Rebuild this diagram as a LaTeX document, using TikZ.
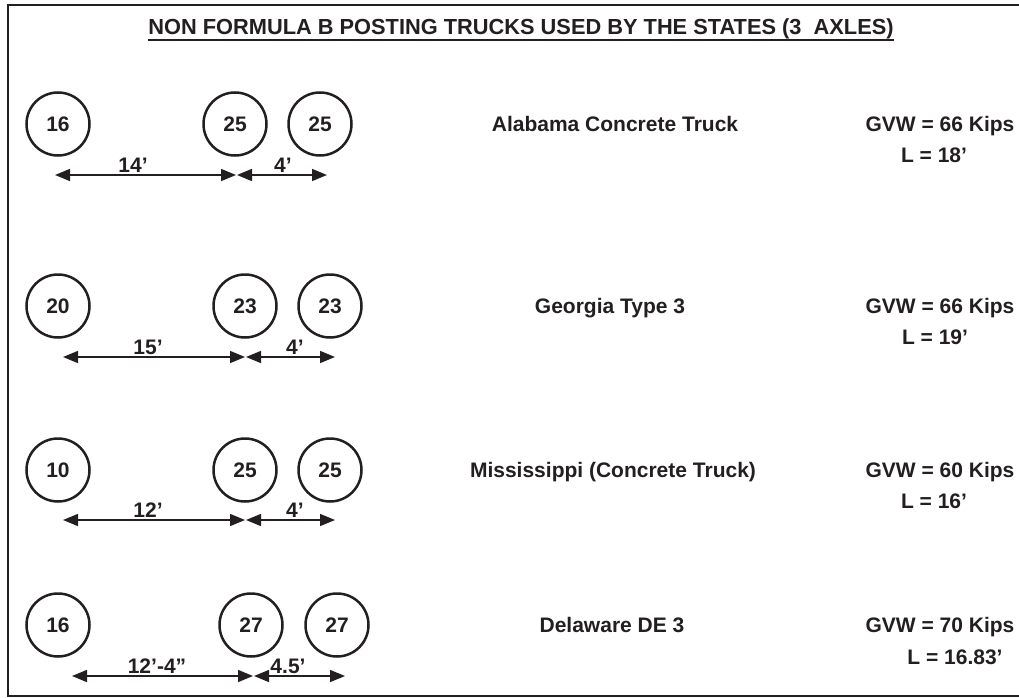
\documentclass[tikz,border=0pt]{standalone}
\usepackage{fontspec}
\setmainfont{Liberation Sans}
\usetikzlibrary{arrows.meta}
\definecolor{ink}{RGB}{35,31,32}
\tikzset{
  axle/.style={circle, draw=ink, line width=2.5pt, minimum size=63pt, inner sep=0pt,
               font=\fontsize{21}{24}\selectfont\bfseries, text=ink},
  lbl/.style={anchor=base, inner sep=0pt, font=\fontsize{21}{24}\selectfont\bfseries, text=ink},
  dim/.style={draw=ink, line width=1.5pt, {Triangle[length=15pt,width=12pt]}-{Triangle[length=15pt,width=12pt]}},
  frame/.style={draw=ink, line width=2pt}
}
\begin{document}
\begin{tikzpicture}[x=1pt, y=-1pt]
\useasboundingbox (0,0) rectangle (1019,698);

% outer frame (open on the right)
\coordinate (ftr) at (1025,5);
\coordinate (ftl) at (8,5);
\coordinate (fbl) at (8,696);
\coordinate (fbr) at (1025,696);
\draw[frame] (ftr) -- (ftl) -- (fbl) -- (fbr);

% heading
\node[lbl, font=\fontsize{21.8}{24}\selectfont\bfseries] (title) at (521,35)
  {NON FORMULA B POSTING TRUCKS USED BY THE STATES (3\ \ AXLES)};
\draw[ink, line width=1.5pt] ([yshift=-5pt]title.base west) -- ([yshift=-5pt]title.base east);

% ---- Alabama ----
\node[axle] (a1) at (58,124) {16};
\node[axle] (a2) at (235,124) {25};
\node[axle] (a3) at (320,124) {25};
\coordinate (a1d) at (55,175);
\coordinate (a2d) at (236,175);
\coordinate (a2e) at (237,175);
\coordinate (a3d) at (327,175);
\draw[dim] (a1d) -- (a2d);
\draw[dim] (a2e) -- (a3d);
\node[lbl] (a12) at (133,172.5) {14’};
\node[lbl] (a23) at (283,172.5) {4’};
\node[lbl] (aname) at (615,131.5) {Alabama Concrete Truck};
\node[lbl] (agvw) at (940,131.5) {GVW = 66 Kips};
\node[lbl] (alen) at (934,162.5) {L = 18’};

% ---- Georgia ----
\node[axle] (g1) at (58,306) {20};
\node[axle] (g2) at (245,306) {23};
\node[axle] (g3) at (330,306) {23};
\coordinate (g1d) at (63,357);
\coordinate (g2d) at (245,357);
\coordinate (g2e) at (246,357);
\coordinate (g3d) at (335,357);
\draw[dim] (g1d) -- (g2d);
\draw[dim] (g2e) -- (g3d);
\node[lbl] (g12) at (148,354.5) {15’};
\node[lbl] (g23) at (295,354.5) {4’};
\node[lbl] (gname) at (610,313.5) {Georgia Type 3};
\node[lbl] (ggvw) at (940,313.5) {GVW = 66 Kips};
\node[lbl] (glen) at (935,344.5) {L = 19’};

% ---- Mississippi ----
\node[axle] (m1) at (58,470) {10};
\node[axle] (m2) at (245,470) {25};
\node[axle] (m3) at (330,470) {25};
\coordinate (m1d) at (63,520);
\coordinate (m2d) at (245,520);
\coordinate (m2e) at (246,520);
\coordinate (m3d) at (335,520);
\draw[dim] (m1d) -- (m2d);
\draw[dim] (m2e) -- (m3d);
\node[lbl] (m12) at (148,517.5) {12’};
\node[lbl] (m23) at (295,517.5) {4’};
\node[lbl] (mname) at (613,477.5) {Mississippi (Concrete Truck)};
\node[lbl] (mgvw) at (940,477.5) {GVW = 60 Kips};
\node[lbl] (mlen) at (934,508.5) {L = 16’};

% ---- Delaware ----
\node[axle] (d1) at (58,625) {16};
\node[axle] (d2) at (251,625) {27};
\node[axle] (d3) at (337,625) {27};
\coordinate (d1d) at (72,676);
\coordinate (d2d) at (253,676);
\coordinate (d2e) at (254,676);
\coordinate (d3d) at (345,676);
\draw[dim] (d1d) -- (d2d);
\draw[dim] (d2e) -- (d3d);
\node[lbl] (d12) at (157,673.5) {12’-4”};
\node[lbl] (d23) at (288,673.5) {4.5’};
\node[lbl] (dname) at (612,632.5) {Delaware DE 3};
\node[lbl] (dgvw) at (940,632.5) {GVW = 70 Kips};
\node[lbl] (dlen) at (955,664.5) {L = 16.83’};
\end{tikzpicture}
\end{document}
